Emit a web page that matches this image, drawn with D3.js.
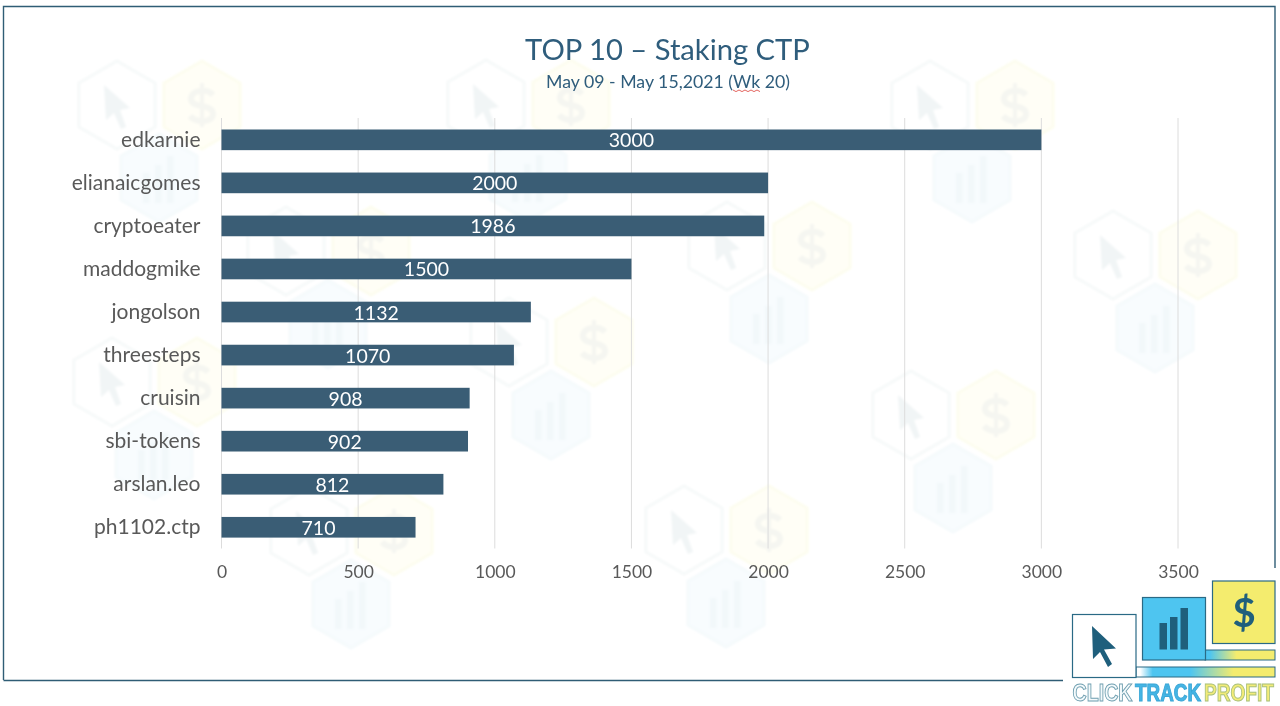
<!DOCTYPE html>
<html>
<head>
<meta charset="utf-8">
<script src="https://cdn.jsdelivr.net/npm/d3@7"></script>
<style>
  html, body { margin: 0; padding: 0; background: #fff; }
  svg { display: block; }
  text { font-family: Lato, "Open Sans", sans-serif; }
</style>
</head>
<body>
<div class="chart"></div>
<script>
var names = ['edkarnie', 'elianaicgomes', 'cryptoeater', 'maddogmike', 'jongolson', 'threesteps', 'cruisin', 'sbi-tokens', 'arslan.leo', 'ph1102.ctp'];
var amounts = [3000, 2000, 1986, 1500, 1132, 1070, 908, 902, 812, 710];
var tickValues = [0, 500, 1000, 1500, 2000, 2500, 3000, 3500];

// background stamp of the logo, one entry per group: cursor hexagon x, y
var stampX = [117, 486, 930, 1113, 286, 727, 509, 112, 911, 684, 309];
var stampY = [105, 104, 105, 255, 251, 246, 342, 382, 415, 530, 531];

var navy = '#3a5d75';
var dim = { width: 1280, height: 706 };

var svg = d3.select('.chart').append('svg')
  .attr('width', dim.width)
  .attr('height', dim.height);

var defs = svg.append('defs');

var addGradient = (id, stops) => {
  var g = defs.append('linearGradient').attr('id', id);
  stops.forEach(s => g.append('stop').attr('offset', s[0]).attr('stop-color', s[1]));
};
addGradient('bandLow', [['0%', '#ffffff'], ['3%', '#ffffff'], ['12%', '#4ec5f0'], ['39%', '#4ec5f0'], ['70%', '#f4ec6e'], ['100%', '#f4ec6e']]);
addGradient('bandHigh', [['0%', '#4ec5f0'], ['7%', '#4ec5f0'], ['45%', '#f4ec6e'], ['100%', '#f4ec6e']]);
defs.append('filter').attr('id', 'soft')
  .append('feGaussianBlur').attr('stdDeviation', 0.8);

// watermark
var hexPath = (cx, cy, r) => {
  var pts = d3.range(6).map(i => {
    var a = Math.PI / 3 * i;
    return [cx + r * Math.sin(a), cy - r * Math.cos(a)];
  });
  return d3.line()(pts) + 'Z';
};

var stamp = svg.append('g').attr('class', 'stamp').attr('filter', 'url(#soft)');
stampX.forEach((sx, i) => {
  var sy = stampY[i];
  var g = stamp.append('g');
  g.append('path').attr('d', hexPath(sx, sy, 44)).attr('fill', '#fff')
    .attr('stroke', '#f6f9f9').attr('stroke-width', 3);
  g.append('path').attr('d', hexPath(sx + 85, sy, 44)).attr('fill', '#fffef6')
    .attr('stroke', '#fdfdef').attr('stroke-width', 3);
  g.append('path').attr('d', hexPath(sx + 42, sy + 73, 44)).attr('fill', '#f8fcfe')
    .attr('stroke', '#f5fafc').attr('stroke-width', 3);
  // cursor
  g.append('path')
    .attr('transform', `translate(${sx},${sy})`)
    .attr('d', 'M-13,-20L13,3L3,5L9,22L4,24L-3,8L-11,15Z')
    .attr('fill', '#f1f5f6');
  // dollar sign
  var dollar = g.append('g').attr('transform', `translate(${sx + 85},${sy})`)
    .attr('fill', 'none').attr('stroke', '#f5f6f1');
  dollar.append('path').attr('stroke-width', 6)
    .attr('d', 'M11,-10C6,-16 -11,-16 -11,-6C-11,4 11,-2 11,9C11,18 -6,18 -12,11');
  dollar.append('path').attr('stroke-width', 4).attr('d', 'M0,-22V22');
  // little bars
  [[-16, 5], [-4, 13], [8, 22]].forEach(b => {
    g.append('rect').attr('x', sx + 42 + b[0]).attr('y', sy + 73 - b[1])
      .attr('width', 6.5).attr('height', 25 + b[1]).attr('fill', '#f2f8fa');
  });
});

// frame
svg.append('path')
  .attr('d', 'M3.5,680V6.5H1275V568')
  .attr('fill', 'none').attr('stroke', '#2f5d75').attr('stroke-width', 1.4);
svg.append('path')
  .attr('d', 'M3.5,680.5H1063')
  .attr('fill', 'none').attr('stroke', '#2f5d75').attr('stroke-width', 1.6);

// scales
var x = d3.scaleLinear().domain([0, 3500]).range([221.5, 1178]);
var y = d3.scaleBand().domain(names).range([118.3, 548.8]).paddingInner(0.52).paddingOuter(0.26);

// gridlines
svg.append('g').selectAll('line').data(tickValues).enter().append('line')
  .attr('x1', d => x(d)).attr('x2', d => x(d))
  .attr('y1', 118).attr('y2', 548.5)
  .attr('stroke', '#dcdcdc').attr('stroke-width', 1);

// axes
var xAxis = svg.append('g').attr('transform', 'translate(0,548.5)')
  .call(d3.axisBottom(x).tickValues(tickValues).tickSize(0).tickPadding(17).tickFormat(d3.format('d')));
xAxis.select('.domain').remove();
xAxis.selectAll('text').attr('font-size', 17.5).attr('fill', '#595959')
  .style('font-family', 'Lato, "Open Sans", sans-serif');

var yAxis = svg.append('g').attr('transform', 'translate(221.5,0)')
  .call(d3.axisLeft(y).tickSize(0).tickPadding(21));
yAxis.select('.domain').remove();
yAxis.selectAll('text').attr('font-size', 21).attr('fill', '#595959')
  .style('font-family', 'Lato, "Open Sans", sans-serif');

// bars
svg.append('g').selectAll('rect').data(names).enter().append('rect')
  .attr('x', x(0))
  .attr('y', d => y(d))
  .attr('width', (d, i) => x(amounts[i]) - x(0))
  .attr('height', y.bandwidth())
  .attr('fill', navy);

svg.append('g').selectAll('text').data(names).enter().append('text')
  .attr('x', (d, i) => (x(amounts[i]) + x(0)) / 2)
  .attr('y', d => y(d) + y.bandwidth() / 2 + 7.5)
  .attr('text-anchor', 'middle')
  .attr('font-size', 19.5)
  .attr('fill', '#fff')
  .text((d, i) => amounts[i]);

// titles
svg.append('text').attr('x', 667.5).attr('y', 60).attr('text-anchor', 'middle')
  .attr('font-size', 29.2).attr('fill', '#2f5d7c').text('TOP 10 – Staking CTP');
svg.append('text').attr('x', 668).attr('y', 88).attr('text-anchor', 'middle')
  .attr('font-size', 17.7).attr('fill', '#2f5d7c').text('May 09 - May 15,2021 (Wk 20)');
var wavy = d3.range(733, 762, 3).map((px, i) => [px, 90 + (i % 2) * 1.6]);
svg.append('path').attr('d', d3.line()(wavy)).attr('fill', 'none')
  .attr('stroke', '#e0554f').attr('stroke-width', 0.9);

// logo
var logo = svg.append('g').attr('class', 'logo');
var teal = '#2a6a85';
var ink = '#1f5f7c';
logo.append('rect').attr('x', 1136).attr('y', 667).attr('width', 139).attr('height', 10)
  .attr('fill', 'url(#bandLow)').attr('stroke', teal).attr('stroke-width', 1);
logo.append('rect').attr('x', 1072.5).attr('y', 614.5).attr('width', 63.5).attr('height', 63)
  .attr('fill', '#fff').attr('stroke', teal).attr('stroke-width', 1.2);
logo.append('rect').attr('x', 1205).attr('y', 650).attr('width', 70).attr('height', 10)
  .attr('fill', 'url(#bandHigh)').attr('stroke', teal).attr('stroke-width', 1);
logo.append('rect').attr('x', 1142.5).attr('y', 597.5).attr('width', 63).attr('height', 62.5)
  .attr('fill', '#4ec5f0').attr('stroke', teal).attr('stroke-width', 1.2);
logo.append('rect').attr('x', 1212.5).attr('y', 581).attr('width', 62.5).attr('height', 62.5)
  .attr('fill', '#f4ec6e').attr('stroke', teal).attr('stroke-width', 1.2);
logo.append('path')
  .attr('d', 'M1092,626L1116,648.5L1104,649.5L1112,664L1108,667L1100,652L1093,659Z')
  .attr('fill', ink);
[[1159.5, 623], [1170, 617], [1180.5, 608]].forEach(b => {
  logo.append('rect').attr('x', b[0]).attr('y', b[1]).attr('width', 7.5).attr('height', 649.5 - b[1]).attr('fill', ink);
});
logo.append('text').attr('x', 1244).attr('y', 627).attr('text-anchor', 'middle')
  .attr('font-size', 40).attr('font-weight', 700).attr('fill', ink).text('$');

// squeezed with a transform, the narrow face is not installed
[['CLICK', 1072.5, 60, '#f4fafc', '#6f9fb0'], ['TRACK', 1135, 66, '#45b5e5', '#3aa6d6'], ['PROFIT', 1204, 70, '#f3ec78', '#a9c07a']].forEach(p => {
  var word = logo.append('text')
    .attr('font-size', 23.4).attr('font-weight', 700)
    .attr('fill', p[3]).attr('stroke', p[4]).attr('stroke-width', 1)
    .style('font-family', '"Liberation Sans", sans-serif')
    .text(p[0]);
  var squeeze = p[2] / word.node().getComputedTextLength();
  word.attr('transform', `translate(${p[1]},700.5) scale(${squeeze},1)`);
});
</script>
</body>
</html>
